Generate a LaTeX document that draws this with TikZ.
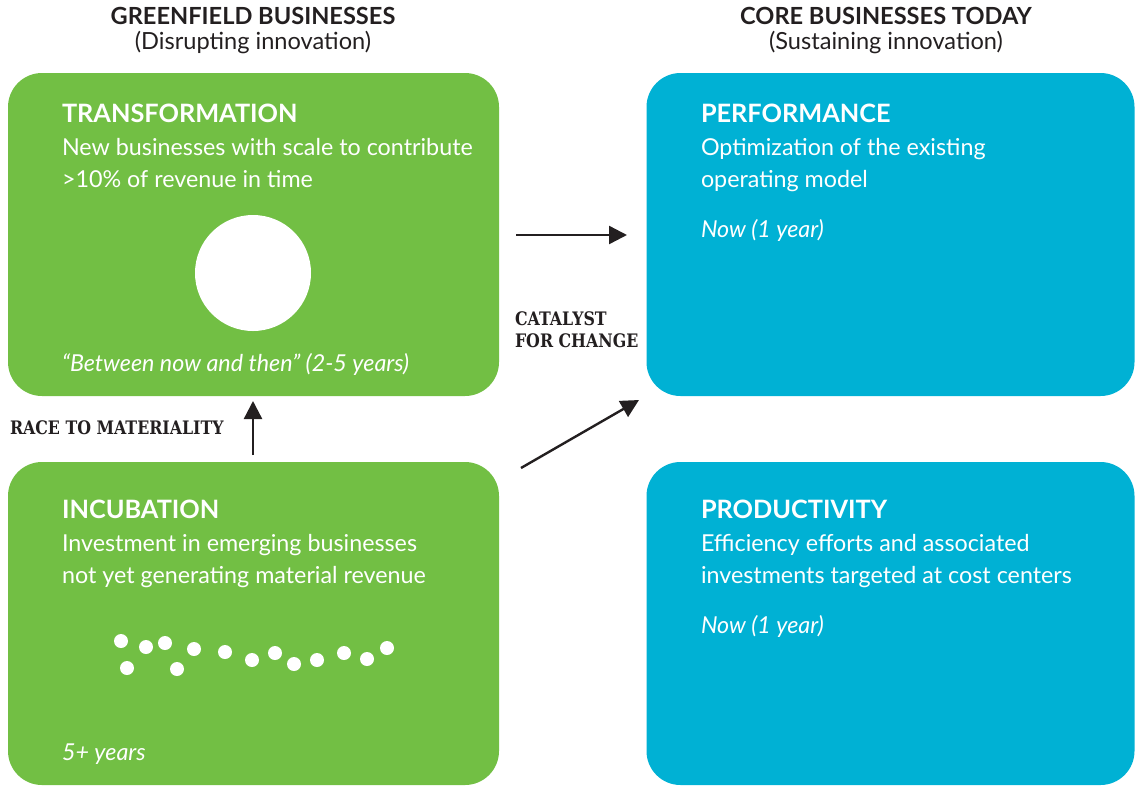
\documentclass[tikz,border=0pt]{standalone}
\usepackage{fontspec}
\setmainfont{Lato}
\newfontfamily\slabfont[FakeStretch=0.85]{DejaVu Serif}
\usetikzlibrary{arrows.meta}
\definecolor{grn}{HTML}{72BF44}
\definecolor{cyn}{HTML}{00B1D4}
\definecolor{ink}{HTML}{231F20}
\begin{document}
\begin{tikzpicture}[x=1pt,y=-1pt,
   every node/.style={inner sep=0pt,outer sep=0pt},
   panel/.style={rounded corners=34pt,minimum width=491pt,minimum height=323pt},
   head/.style={anchor=base,font=\fontsize{23.6}{26}\selectfont\bfseries,text=ink},
   subhead/.style={anchor=base,font=\fontsize{23.6}{26}\selectfont,text=ink},
   title/.style={anchor=base west,font=\fontsize{25.3}{28}\selectfont\bfseries,text=white},
   body/.style={anchor=base west,font=\fontsize{23.3}{32}\selectfont,text=white,align=left},
   when/.style={anchor=base west,font=\fontsize{23.3}{26}\selectfont\itshape,text=white},
   tag/.style={anchor=base west,font=\fontsize{18.6}{22}\selectfont\slabfont\bfseries,text=ink,align=left},
   flow/.style={-{Triangle[length=18pt,width=18pt]},line width=2.4pt,draw=ink}]
   \useasboundingbox (0,0) rectangle (1135,785);
   % column headings
   \node [head] (gfhead) at (253,24) {GREENFIELD BUSINESSES};
   \node [subhead] (gfsub) at (253,49) {(Disrupting innovation)};
   \node [head] (corehead) at (886,24) {CORE BUSINESSES TODAY};
   \node [subhead] (coresub) at (886,49) {(Sustaining innovation)};
   % panels
   \node [panel,fill=grn] (trans) at (253.5,234.5) {};
   \node [panel,fill=grn] (incub) at (253.5,623.5) {};
   \node [panel,fill=cyn,minimum width=488pt] (perf) at (890.5,234.5) {};
   \node [panel,fill=cyn,minimum width=488pt] (prod) at (890.5,623.5) {};
   % transformation
   \node [title] (transtitle) at (62,122) {TRANSFORMATION};
   \node [body] (transtext) at (62,187) {New businesses with scale to contribute\\>10\% of revenue in time};
   \node [circle,fill=white,minimum size=116pt] (globe) at (253,273) {};
   \node [when] (transwhen) at (62,371) {“Between now and then” (2-5 years)};
   % performance
   \node [title] (perftitle) at (701,122) {PERFORMANCE};
   \node [body] (perftext) at (701,187) {Optimization of the existing\\operating model};
   \node [when] (perfwhen) at (701,237) {Now (1 year)};
   % incubation
   \node [title] (incubtitle) at (62,518) {INCUBATION};
   \node [body] (incubtext) at (62,583) {Investment in emerging businesses\\not yet generating material revenue};
   \foreach \px/\py in {121/641,127/668,146/647,165/643,177/669,194/649,225/652,
                        252/660,275/653,294/664,317/660,344/653,367/659,387/648}
      \fill [white] (\px,\py) circle (7pt);
   \node [when] (incubwhen) at (62,760) {5+ years};
   % productivity
   \node [title] (prodtitle) at (701,518) {PRODUCTIVITY};
   \node [body] (prodtext) at (701,583) {Efficiency efforts and associated\\investments targeted at cost centers};
   \node [when] (prodwhen) at (701,633) {Now (1 year)};
   % arrows and their labels
   \coordinate (catA) at (516,235);
   \coordinate (catB) at (627,235);
   \draw [flow] (catA) -- (catB);
   \coordinate (raceA) at (253,455);
   \coordinate (raceB) at (253,401);
   \draw [flow] (raceA) -- (raceB);
   \coordinate (jumpA) at (521,468);
   \coordinate (jumpB) at (639,400);
   \draw [flow] (jumpA) -- (jumpB);
   \node [tag] (cattag) at (515,347) {CATALYST\\FOR CHANGE};
   \node [tag] (racetag) at (10,434) {RACE TO MATERIALITY};
\end{tikzpicture}
\end{document}
